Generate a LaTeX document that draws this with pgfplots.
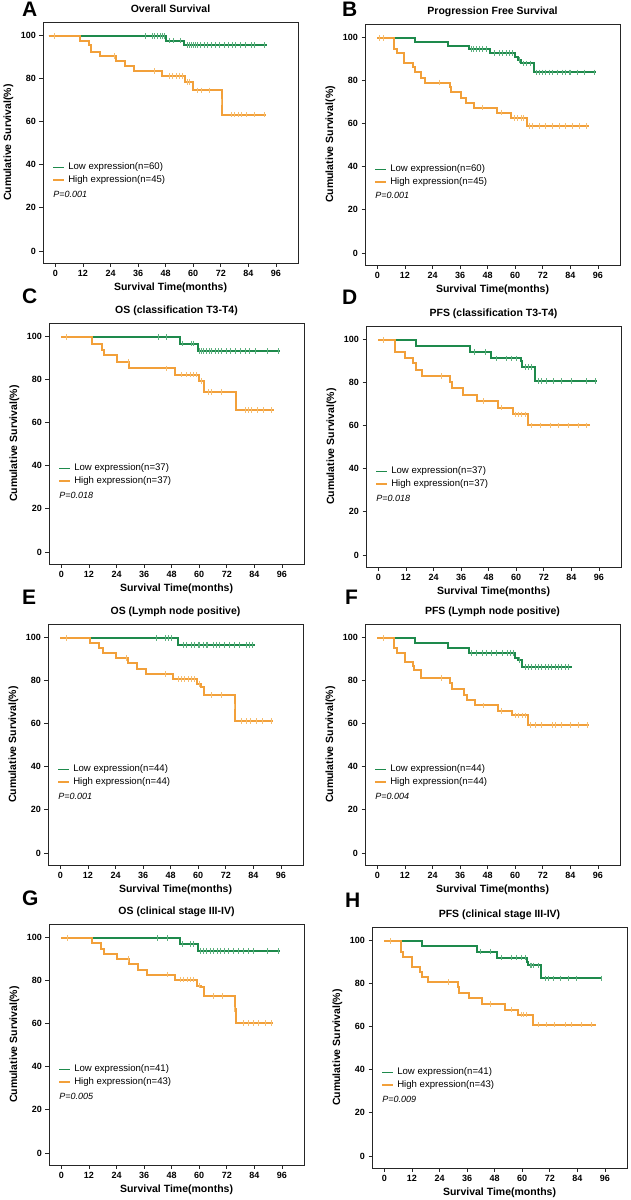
\documentclass[border=0pt]{standalone}
\usepackage{fontspec}
\setmainfont{Liberation Sans}
\usepackage{pgfplots}
\pgfplotsset{compat=1.18}
\definecolor{kmgreen}{HTML}{1E8A4C}
\definecolor{kmorange}{HTML}{F2A03A}
\definecolor{kmgreenL}{HTML}{5DB07F}
\definecolor{kmorangeL}{HTML}{F6BE70}

\tikzset{
  pval/.style={anchor=west, inner sep=0pt, font=\itshape\fontsize{9}{10}\selectfont},
  legtext/.style={anchor=west, inner sep=0pt, font=\fontsize{9.6}{10}\selectfont},
  letter/.style={anchor=north west, inner sep=0pt, font=\bfseries\fontsize{21}{21}\selectfont},
}
% legend rows and p value, drawn inside the axis
\newcommand{\kmleg}[3]{%
  \draw[kmgreen, line width=1.3pt] (axis cs:-1,38.7) -- ++(11pt,0pt);
  \node[legtext, xshift=15pt] at (axis cs:-1,38.7) {Low expression(n=#1)};
  \draw[kmorange, line width=1.3pt] (axis cs:-1,32.9) -- ++(11pt,0pt);
  \node[legtext, xshift=15pt] at (axis cs:-1,32.9) {High expression(n=#2)};
  \node[pval] at (axis cs:-1,26.4) {P=#3};
}
\pgfplotsset{
  km/.style={
    scale only axis, width=255pt, height=241pt,
    xmin=-5.4, xmax=105.6, ymin=-5.6, ymax=106,
    xtick={0,12,...,96}, ytick={0,20,...,100},
    tick align=outside, tick pos=left, major tick length=3.5pt,
    axis line style={line width=0.7pt, black!85},
    every tick/.style={black!85, line width=0.7pt},
    tick label style={font=\bfseries\fontsize{9}{10}\selectfont},
    /pgf/number format/assume math mode=true,
    xlabel={Survival Time(months)}, ylabel={Cumulative Survival(\%)},
    label style={font=\bfseries\fontsize{10.5}{12}\selectfont},
    xlabel style={at={(axis description cs:0.5,-0.116)}, anchor=base},
    ylabel style={at={(axis description cs:-0.125,0.5)}, anchor=base},
    title style={at={(axis description cs:0.5,1.014)}, anchor=base,
                 font=\bfseries\fontsize{10.5}{12}\selectfont},
  },
  low/.style={kmgreen, line width=2pt, const plot, no marks},
  high/.style={kmorange, line width=2pt, const plot, no marks},
  clow/.style={only marks, mark=|, mark size=2.8pt,
               mark options={kmgreenL, line width=0.8pt}},
  chigh/.style={only marks, mark=|, mark size=2.8pt,
                mark options={kmorangeL, line width=0.8pt}},
}

\begin{document}
\begin{tikzpicture}
\path[use as bounding box] (0pt,0pt) rectangle (630pt,-1200pt);

\node[letter] at (22pt,-2pt) {A};
\node[letter] at (342pt,-2pt) {B};
\node[letter] at (22pt,-289pt) {C};
\node[letter] at (342pt,-290pt) {D};
\node[letter] at (22pt,-590pt) {E};
\node[letter] at (345pt,-590pt) {F};
\node[letter] at (22pt,-891pt) {G};
\node[letter] at (345pt,-893pt) {H};

% A
\begin{axis}[km, at={(43pt,-22pt)}, anchor=north west, title={Overall Survival}]
\addplot[low] coordinates {(-3,99.5) (48.3,97.4) (56.1,95.4) (92,95.4)};
\addplot[high] coordinates {(-3,99.5) (10.5,97.1) (14.5,95.5) (15.6,92.1) (19.6,90.3)
  (26.2,87.8) (30.5,85.6) (34.2,83.2) (46.5,81) (56.4,78.2) (59.7,74.3) (72.3,68.9)
  (72.7,63.1) (91.6,63.1)};
\addplot[clow] coordinates {(39.3,99.5) (42.2,99.5) (43.2,99.5) (44.4,99.5) (45.5,99.5)
  (46.4,99.5) (47.6,99.5) (49.6,97.4) (51.2,97.4) (54.5,97.4)
  (57.5,95.4) (58.3,95.4) (59,95.4) (60,95.4) (61,95.4) (61.8,95.4) (63.3,95.4)
  (64.7,95.4) (66.2,95.4) (67.9,95.4) (69.8,95.4) (71.6,95.4) (73.5,95.4) (75.2,95.4)
  (77.2,95.4) (78.5,95.4) (80.7,95.4) (82.9,95.4) (85.1,95.4) (86.8,95.4) (90.9,95.4)};
\addplot[chigh] coordinates {(-0.4,99.5) (25.5,90.3) (43.2,83.2) (49.5,81) (50.9,81)
  (52.7,81) (54.1,81) (55.3,81) (57.5,78.2) (58.5,78.2) (62,74.3) (63.5,74.3) (67,74.3)
  (72.3,68.9) (76.4,63.1) (77.8,63.1) (79.6,63.1) (81,63.1) (83.2,63.1) (86.8,63.1)
  (90.9,63.1)};
\kmleg{60}{45}{0.001}
\end{axis}

% B
\begin{axis}[km, at={(365pt,-24pt)}, anchor=north west, title={Progression Free Survival}]
\addplot[low] coordinates {(0,99.4) (16.2,97.5) (30.6,96) (40,94.4) (49,92.6) (60,90.9)
  (61.3,89.3) (62.7,87.8) (68.2,83.6) (95,83.6)};
\addplot[high] coordinates {(0,99.4) (7.2,94.4) (8.7,92.4) (11.6,87.8) (15.5,85.9)
  (16.2,83.9) (18.8,81.2) (20.5,78.9) (31.4,76.6) (32.1,74.3) (36.4,71.9) (38.6,69.6)
  (42.2,67.3) (52,65) (58.1,62.6) (64.9,58.8) (92,58.8)};
\addplot[clow] coordinates {(40.8,94.4) (41.8,94.4) (42.9,94.4) (44.4,94.4) (45.8,94.4)
  (47.3,94.4) (50.9,92.6) (53,92.6) (54.5,92.6) (56,92.6) (57.4,92.6) (58.8,92.6)
  (62,89.3) (63.5,87.8) (65,87.8) (66.5,87.8) (69,83.6) (70.4,83.6) (71.9,83.6)
  (73.3,83.6) (74.8,83.6) (76.2,83.6) (78.4,83.6) (80.5,83.6) (82,83.6) (83.5,83.6)
  (84.2,83.6) (87.1,83.6) (90,83.6) (94.4,83.6)};
\addplot[chigh] coordinates {(1,99.4) (2.5,99.4) (27,78.9) (45.8,67.3) (54,65)
  (59.5,62.6) (61,62.6) (62.5,62.6) (63.5,62.6) (66,58.8) (67.5,58.8) (70.4,58.8)
  (73.3,58.8) (76.2,58.8) (79.1,58.8) (82,58.8) (85,58.8) (87.8,58.8) (91,58.8)};
\kmleg{60}{45}{0.001}
\end{axis}

% C
\begin{axis}[km, at={(49pt,-323pt)}, anchor=north west, title={OS (classification T3-T4)}]
\addplot[low] coordinates {(0,99.5) (51.6,96.5) (59.3,93.1) (95,93.1)};
\addplot[high] coordinates {(0,99.5) (13.1,96.5) (17.5,93.4) (18.5,91.3) (24,88.1)
  (29.5,85) (49.5,82.1) (59.9,79.1) (62.1,74) (76.1,65.6) (92.4,65.6)};
\addplot[clow] coordinates {(42.2,99.5) (45.8,99.5) (52.8,96.5) (56.7,96.5) (57.5,96.5)
  (60,93.1) (61,93.1) (62,93.1) (63.3,93.1) (64.3,93.1) (65.5,93.1) (67,93.1) (68.4,93.1)
  (69.8,93.1) (71.7,93.1) (73.5,93.1) (75.6,93.1) (77.8,93.1) (80,93.1) (82,93.1)
  (84.4,93.1) (89.5,93.1) (94.5,93.1)};
\addplot[chigh] coordinates {(2.2,99.5) (29,88.1) (45.8,85) (52.4,82.1) (54.5,82.1)
  (56,82.1) (57.5,82.1) (58.9,82.1) (61,79.1) (64,74) (65.5,74) (69.8,74) (80,65.6)
  (81.5,65.6) (82.9,65.6) (85.1,65.6) (88,65.6) (91.6,65.6)};
\kmleg{37}{37}{0.018}
\end{axis}

% D
\begin{axis}[km, at={(366pt,-326pt)}, anchor=north west, title={PFS (classification T3-T4)}]
\addplot[low] coordinates {(0,99.5) (16.4,96.7) (39.9,94.1) (48.9,91) (62.1,89.6)
  (62.7,87.1) (68.2,80.5) (95,80.5)};
\addplot[high] coordinates {(0,99.5) (7.3,94.1) (11.6,91) (15.2,88.7) (16.2,85.6)
  (19.1,82.8) (31.2,80) (31.9,77.1) (37,74) (42.8,71.3) (52.2,68.2) (58.4,65.1)
  (65,60) (92,60)};
\addplot[clow] coordinates {(42,94.1) (46.4,94.1) (51.5,91) (55.8,91) (58,91) (60.2,91)
  (63.8,87.1) (65.3,87.1) (66.7,87.1) (69.6,80.5) (71,80.5) (73.2,80.5) (76.1,80.5)
  (79.8,80.5) (84.1,80.5) (90.6,80.5) (94.3,80.5)};
\addplot[chigh] coordinates {(2.2,99.5) (27.6,82.8) (45.7,71.3) (53.6,68.2) (59.5,65.1)
  (60.9,65.1) (62.4,65.1) (63.8,65.1) (66.7,60) (70.3,60) (74.7,60) (78.3,60) (82.7,60)
  (87,60) (90.6,60)};
\kmleg{37}{37}{0.018}
\end{axis}

% E
\begin{axis}[km, at={(48pt,-624pt)}, anchor=north west, title={OS (Lymph node positive)}]
\addplot[low] coordinates {(0,99.5) (51.2,96.4) (84.5,96.4)};
\addplot[high] coordinates {(0,99.5) (13,97.2) (17,94.9) (18.5,92.6) (24.3,90.2)
  (29.6,87.8) (33.2,85.3) (37.1,82.8) (49.1,80.5) (59.6,78.1) (61.4,76.9) (62.4,73.2)
  (75.8,67.8) (76.2,61.1) (92.4,61.1)};
\addplot[clow] coordinates {(41.9,99.5) (45.5,99.5) (46.9,99.5) (48.4,99.5) (53.4,96.4)
  (54.9,96.4) (57,96.4) (58.5,96.4) (59.9,96.4) (60.6,96.4) (62.1,96.4) (63.5,96.4)
  (64.2,96.4) (66.4,96.4) (67.9,96.4) (69.3,96.4) (71.5,96.4) (73.6,96.4) (75.8,96.4)
  (78,96.4) (80.8,96.4) (82.3,96.4) (83.7,96.4)};
\addplot[chigh] coordinates {(2.5,99.5) (28.9,90.2) (45.5,82.8) (51.2,80.5) (52.7,80.5)
  (54.1,80.5) (55.6,80.5) (57,80.5) (58.5,80.5) (60.6,78.1) (65.7,73.2) (70,73.2)
  (75.8,67.8) (78.7,61.1) (80.8,61.1) (82.6,61.1) (85.2,61.1) (88,61.1) (91.7,61.1)};
\kmleg{44}{44}{0.001}
\end{axis}

% F
\begin{axis}[km, at={(365pt,-624pt)}, anchor=north west, title={PFS (Lymph node positive)}]
\addplot[low] coordinates {(0,99.5) (16.4,97.4) (30.6,94.7) (39.9,92.7) (60,90.1)
  (61.1,89.2) (62.9,86) (84.7,86)};
\addplot[high] coordinates {(0,99.5) (7.1,95) (8.4,92.7) (11.8,88.5) (15.3,86.5)
  (16.1,84.5) (19,81.1) (31.7,78.6) (32.4,76.1) (37.5,73.3) (38.9,71) (42.6,68.3)
  (52.4,65.8) (58.5,63.7) (65.4,59.3) (92.2,59.3)};
\addplot[clow] coordinates {(41.1,92.7) (43.3,92.7) (45.5,92.7) (47.6,92.7) (49.8,92.7)
  (52,92.7) (54.2,92.7) (56.4,92.7) (57.8,92.7) (59.3,92.7) (61.7,89.2) (64.3,86)
  (65.8,86) (67.2,86) (68.7,86) (70.1,86) (71.6,86) (73,86) (74.5,86) (75.9,86)
  (77.4,86) (78.8,86) (80.3,86) (81.8,86) (83.2,86)};
\addplot[chigh] coordinates {(2.6,99.5) (28,81.1) (46.2,68.3) (54,65.8) (60,63.7)
  (61.4,63.7) (62.9,63.7) (64.3,63.7) (66.5,59.3) (68.7,59.3) (71.6,59.3) (76,59.3)
  (77.4,59.3) (80.3,59.3) (84,59.3) (87.6,59.3) (91.2,59.3)};
\kmleg{44}{44}{0.004}
\end{axis}

% G
\begin{axis}[km, at={(49pt,-924pt)}, anchor=north west, title={OS (clinical stage III-IV)}]
\addplot[low] coordinates {(0,99.4) (51.8,96.8) (59.3,93.6) (95,93.6)};
\addplot[high] coordinates {(0,99.4) (13.3,97.1) (17.4,94.3) (18.4,92.2) (24.2,89.8)
  (29.3,87.5) (33.4,84.9) (37.3,82.6) (49.4,80.3) (59,77.5) (60.9,76.8) (62.2,72.6)
  (75.4,66.5) (75.8,60.1) (92.1,60.1)};
\addplot[clow] coordinates {(41.6,99.4) (46,99.4) (52.5,96.8) (56.1,96.8) (57.6,96.8)
  (60.4,93.6) (61.9,93.6) (63.3,93.6) (64.8,93.6) (66.2,93.6) (67.7,93.6) (69.2,93.6)
  (70.9,93.6) (72.8,93.6) (75,93.6) (77.1,93.6) (79.3,93.6) (81.5,93.6) (83.7,93.6)
  (89.5,93.6) (94.6,93.6)};
\addplot[chigh] coordinates {(2.5,99.4) (29.3,89.8) (46,82.6) (51.8,80.3) (53.2,80.3)
  (54.7,80.3) (56.1,80.3) (57.6,80.3) (60.2,77.5) (66.3,72.6) (69.9,72.6) (75.4,66.5)
  (79.3,60.1) (81.5,60.1) (83.7,60.1) (85.8,60.1) (88.7,60.1) (91.6,60.1)};
\kmleg{41}{43}{0.005}
\end{axis}

% H
\begin{axis}[km, at={(372pt,-927pt)}, anchor=north west, title={PFS (clinical stage III-IV)}]
\addplot[low] coordinates {(0,99.4) (16.5,97.1) (40.2,94.6) (48.9,91.8) (62.1,90)
  (62.6,88.2) (68.2,82.2) (94.8,82.2)};
\addplot[high] coordinates {(0,99.4) (7.3,94.6) (8.3,92.2) (11.9,87.4) (15.5,85.3)
  (16.2,82.8) (19.1,80.5) (31.9,78.1) (32.5,75.5) (36.8,72.9) (42.3,70.4) (52.5,67.8)
  (58.3,65.4) (64.8,60.8) (92.1,60.8)};
\addplot[clow] coordinates {(41.6,94.6) (46,94.6) (51,91.8) (55.4,91.8) (57.6,91.8)
  (59.7,91.8) (61.2,91.8) (63.4,88.2) (64.1,88.2) (64.8,88.2) (67,88.2) (69.9,82.2)
  (71.3,82.2) (73.5,82.2) (76.4,82.2) (80,82.2) (83.7,82.2) (94.5,82.2)};
\addplot[chigh] coordinates {(2.5,99.4) (27.8,80.5) (46,70.4) (55.4,67.8) (59.5,65.4)
  (60.5,65.4) (62,65.4) (67,60.8) (70.6,60.8) (74.2,60.8) (78.6,60.8) (81.5,60.8)
  (85.8,60.8) (90.2,60.8)};
\kmleg{41}{43}{0.009}
\end{axis}
\end{tikzpicture}
\end{document}
